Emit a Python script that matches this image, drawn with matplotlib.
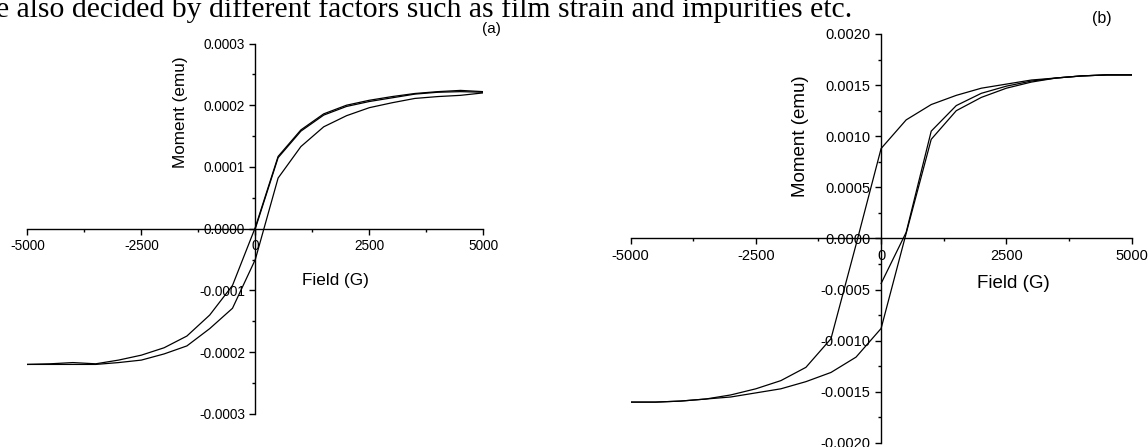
import matplotlib
matplotlib.use("Agg")
import matplotlib.pyplot as plt
from matplotlib.ticker import MultipleLocator, FormatStrFormatter

plt.rcParams['font.family'] = ['Liberation Sans', 'DejaVu Sans']
plt.rcParams['axes.unicode_minus'] = False

# field steps (G)
field_up = [0, 500, 1000, 1500, 2000, 2500, 3000, 3500, 4000, 4500, 5000]
field_down = [5000, 4500, 4000, 3500, 3000, 2500, 2000, 1500, 1000, 500, 0,
              -500, -1000, -1500, -2000, -2500, -3000, -3500, -4000, -4500, -5000]
field_return = [-5000, -4500, -4000, -3500, -3000, -2500, -2000, -1500, -1000, -500, 0,
                500, 1000, 1500, 2000, 2500, 3000, 3500, 4000, 4500, 5000]

# panel (a) moment (emu)
a_init = [0.0, 1.15e-4, 1.58e-4, 1.84e-4, 1.98e-4, 2.06e-4, 2.12e-4, 2.18e-4, 2.21e-4, 2.22e-4, 2.21e-4]
a_down = [2.22e-4, 2.24e-4, 2.22e-4, 2.19e-4, 2.14e-4, 2.08e-4, 2.00e-4, 1.86e-4, 1.60e-4, 1.17e-4, 0.02e-4,
          -0.92e-4, -1.40e-4, -1.74e-4, -1.93e-4, -2.05e-4, -2.13e-4, -2.19e-4, -2.17e-4, -2.19e-4, -2.20e-4]
a_return = [-2.20e-4, -2.20e-4, -2.20e-4, -2.20e-4, -2.17e-4, -2.13e-4, -2.03e-4, -1.90e-4, -1.62e-4, -1.29e-4, -0.50e-4,
            0.82e-4, 1.33e-4, 1.65e-4, 1.83e-4, 1.96e-4, 2.04e-4, 2.11e-4, 2.14e-4, 2.16e-4, 2.20e-4]

# panel (b) moment (emu)
b_init = [-0.44e-3, 0.06e-3, 1.05e-3, 1.30e-3, 1.42e-3, 1.49e-3, 1.54e-3, 1.57e-3, 1.59e-3, 1.60e-3, 1.60e-3]
b_down = [1.60e-3, 1.60e-3, 1.59e-3, 1.57e-3, 1.55e-3, 1.51e-3, 1.47e-3, 1.40e-3, 1.31e-3, 1.16e-3, 0.88e-3,
          -0.06e-3, -0.98e-3, -1.26e-3, -1.39e-3, -1.47e-3, -1.53e-3, -1.57e-3, -1.59e-3, -1.60e-3, -1.60e-3]
b_return = [-1.60e-3, -1.60e-3, -1.59e-3, -1.57e-3, -1.55e-3, -1.51e-3, -1.47e-3, -1.40e-3, -1.31e-3, -1.16e-3, -0.88e-3,
            0.05e-3, 0.97e-3, 1.25e-3, 1.38e-3, 1.47e-3, 1.53e-3, 1.57e-3, 1.59e-3, 1.60e-3, 1.60e-3]

fig = plt.figure(figsize=(11.48, 4.47), dpi=100)

# body text cut at top of the page
fig.text(-0.0035, 1 - 17.2 / 447, "e also decided by different factors such as film strain and impurities etc.",
         family=['Liberation Serif', 'DejaVu Serif'], fontsize=21.4, va='baseline', ha='left')


def setup(ax, ylim, ymajor, tick_fs, label_fs, xlab_pos, ylab_pos):
    ax.set_xlim(-5000, 5000)
    ax.set_ylim(-ylim, ylim)
    ax.spines['right'].set_color('none')
    ax.spines['top'].set_color('none')
    ax.spines['left'].set_position('zero')
    ax.spines['bottom'].set_position('zero')
    for s in ['left', 'bottom']:
        ax.spines[s].set_linewidth(1.0)
    ax.xaxis.set_ticks_position('bottom')
    ax.yaxis.set_ticks_position('left')
    ax.xaxis.set_major_locator(MultipleLocator(2500))
    ax.xaxis.set_minor_locator(MultipleLocator(1250))
    ax.yaxis.set_major_locator(MultipleLocator(ymajor))
    ax.yaxis.set_minor_locator(MultipleLocator(ymajor / 2))
    ax.xaxis.set_major_formatter(FormatStrFormatter('%d'))
    ax.yaxis.set_major_formatter(FormatStrFormatter('%.4f'))
    ax.tick_params(which='major', direction='out', length=4.5, width=1.0, labelsize=tick_fs, pad=3)
    ax.tick_params(which='minor', direction='out', length=2.5, width=1.0)
    ax.patch.set_alpha(0)
    ax.text(xlab_pos[0], xlab_pos[1], 'Field (G)', transform=ax.transAxes,
            ha='center', va='center', fontsize=label_fs)
    ax.text(ylab_pos[0], ylab_pos[1], 'Moment (emu)', transform=ax.transAxes,
            ha='center', va='center', rotation=90, fontsize=label_fs)


ax1 = fig.add_axes([27.3 / 1148, 1 - 413.8 / 447, 456 / 1148, 370.3 / 447])
ax1.plot(field_up, a_init, color='k', lw=0.9)
ax1.plot(field_down, a_down, color='k', lw=0.9)
ax1.plot(field_return, a_return, color='k', lw=0.9)
setup(ax1, 0.0003, 0.0001, 9.8, 12.3, (0.675, 0.36), (0.335, 0.814))
fig.text(491 / 1148, 1 - 29 / 447, '(a)', fontsize=11, ha='center', va='center')

ax2 = fig.add_axes([630.5 / 1148, 1 - 443 / 447, 501.2 / 1148, 409 / 447])
ax2.plot(field_up, b_init, color='k', lw=0.9)
ax2.plot(field_down, b_down, color='k', lw=0.9)
ax2.plot(field_return, b_return, color='k', lw=0.9)
setup(ax2, 0.002, 0.0005, 10.5, 13.5, (0.763, 0.391), (0.34, 0.75))
fig.text(1101.5 / 1148, 1 - 19 / 447, '(b)', fontsize=11.5, ha='center', va='center')

fig.savefig('out.png', dpi=100)
